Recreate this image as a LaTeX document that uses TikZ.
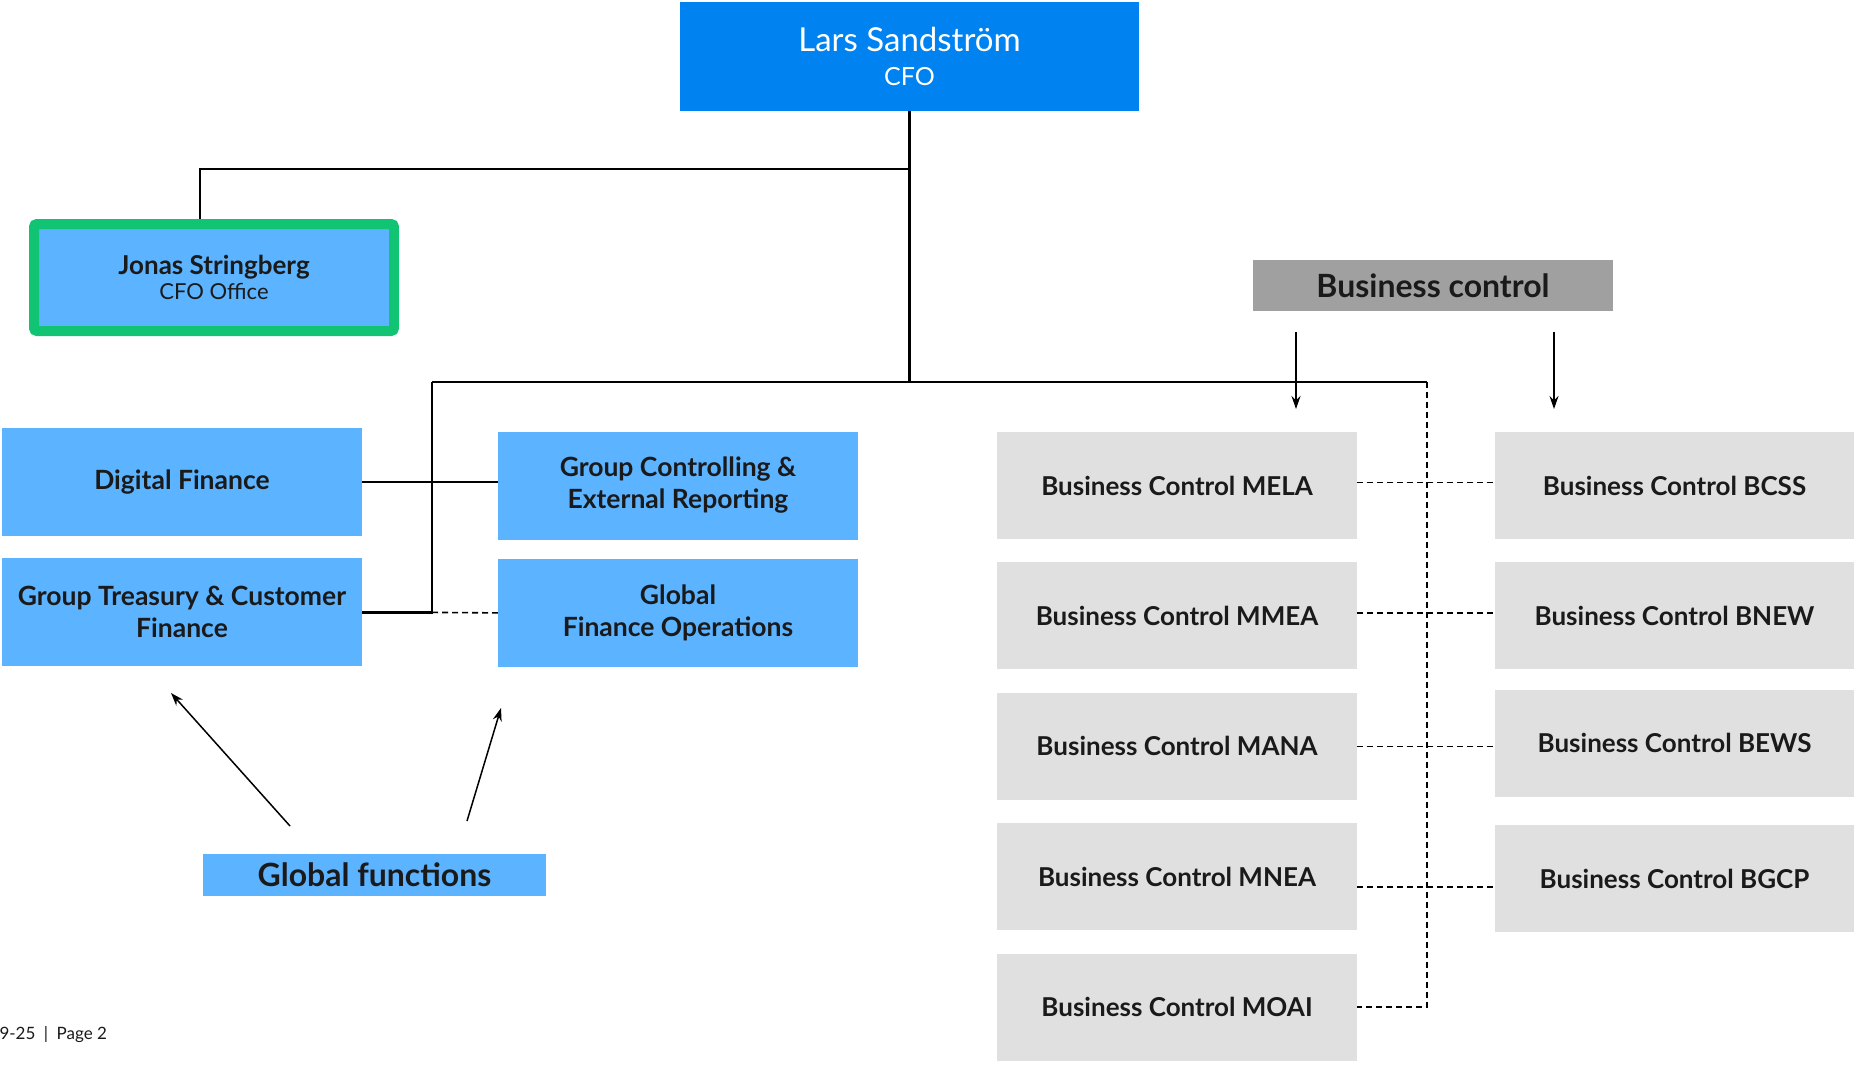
\documentclass[tikz,border=0pt]{standalone}
\usepackage{fontspec}
\setmainfont{Lato}
\usepackage{tikz}
\usetikzlibrary{positioning, arrows.meta, backgrounds}
\definecolor{cfoblue}{HTML}{0082F0}
\definecolor{lightblue}{HTML}{5CB3FF}
\definecolor{officegreen}{HTML}{10C474}
\definecolor{bcgray}{HTML}{E0E0E0}
\definecolor{headgray}{HTML}{A0A0A0}
\definecolor{ink}{HTML}{1A1A1A}
\tikzstyle{head}=[%
      rectangle, fill=cfoblue, text=white, align=center, font=\fontsize{25}{34}\selectfont,
      minimum width=459pt, minimum height=109pt, inner sep=0pt
]
\tikzstyle{office}=[%
      rectangle, fill=lightblue, draw=officegreen, line width=10pt, rounded corners=3pt,
      text=ink, align=center, font=\fontsize{22}{25}\selectfont,
      minimum width=360pt, minimum height=107pt, inner sep=0pt
]
\tikzstyle{fn}=[%
      rectangle, fill=lightblue, text=ink, align=center, font=\fontsize{26.5}{32}\selectfont\bfseries,
      minimum width=360pt, minimum height=108pt, inner sep=0pt
]
\tikzstyle{bc}=[%
      rectangle, fill=bcgray, text=ink, align=center, font=\fontsize{26}{32}\selectfont\bfseries,
      minimum width=360pt, minimum height=107pt, inner sep=0pt
]
\tikzstyle{tag}=[%
      rectangle, text=ink, font=\fontsize{32}{38}\selectfont\bfseries,
      minimum width=360pt, inner sep=0pt
]
\tikzstyle{line}=[draw=black, line width=2.5pt]
\tikzstyle{dot}=[draw=black, line width=1.6pt, dash pattern=on 6pt off 4pt]
\tikzstyle{arr}=[draw=black, line width=1.5pt, -{Stealth[length=13pt,width=9pt]}]

\begin{document}
\begin{tikzpicture}[x=1pt, y=-1pt]
    \useasboundingbox (0,0) rectangle (1854,1065);

    % top of the tree
    \node[head]   (cfo) at (909.5,56.5) {{\fontsize{33}{34}\selectfont Lars Sandström}\\CFO};
    \node[office] (cso) at (214,277.5)  {{\fontsize{26}{25}\selectfont\bfseries Jonas Stringberg}\\CFO Office};

    % global functions
    \node[fn] (df)  at (182,482)                {Digital Finance};
    \node[fn] (gt)  [below=22pt of df]          {Group Treasury \& Customer\\Finance};
    \node[fn] (gc)  at (678,485.5)              {Group Controlling \&\\External Reporting};
    \node[fn] (gfo) [below=19pt of gc]          {Global\\Finance Operations};
    \node[tag, fill=lightblue, minimum width=343pt, minimum height=42pt] (gf) at (374.5,875) {Global functions};

    % business control, two columns
    \node[tag, fill=headgray, minimum height=51pt] (bctl) at (1433,285.5) {Business control};
    \node[bc] (mela) at (1177,485.5)        {Business Control MELA};
    \node[bc] (mmea) [below=23pt of mela]   {Business Control MMEA};
    \node[bc] (mana) [below=23pt of mmea]   {Business Control MANA};
    \node[bc] (mnea) [below=23pt of mana]   {Business Control MNEA};
    \node[bc] (moai) [below=23pt of mnea]   {Business Control MOAI};
    \node[bc] (bcss) at (1674.5,485.5)      {Business Control BCSS};
    \node[bc] (bnew) [below=23pt of bcss]   {Business Control BNEW};
    \node[bc] (bews) [below=20pt of bnew]   {Business Control BEWS};
    \node[bc] (bgcp) [below=28pt of bews]   {Business Control BGCP};

    \node[anchor=west, text=ink, font=\fontsize{17}{20}\selectfont] (foot) at (-4,1035) {9-25\enspace|\enspace Page 2};

    \coordinate (split) at (909,169);
    \coordinate (busl)  at (432,382);
    \coordinate (busr)  at (1427,382);
    \coordinate (bca)   at (1296,332);
    \coordinate (bcb)   at (1554,332);
    \coordinate (gfa)   at (290,826);
    \coordinate (gfb)   at (467,821);

    \begin{scope}[on background layer]
    \draw[line] (cfo.south) -- (cfo.south |- busl);
    \draw[line] (split) -| ([xshift=-14pt]cso.north);
    \draw[line] (busl) -- (busr);
    \draw[line] (busl) -- (busl |- gt.east) -- (gt.east);
    \draw[dot]  (busl |- gt.east) -- (gfo.west);
    \draw[line] (df.east) -- (df.east -| gc.west);

    \draw[dot] (busr) -- (busr |- moai.east) -- (moai.east);
    \draw[dot] ([yshift=3pt]mela.east) -- ([yshift=3pt]mela.east -| bcss.west);
    \draw[dot] ([yshift=3pt]mmea.east) -- ([yshift=3pt]mmea.east -| bnew.west);
    \draw[dot] (mana.east) -- (mana.east -| bews.west);
    \draw[dot] ([yshift=-10pt]mnea.east) -- ([yshift=-10pt]mnea.east -| bgcp.west);
    \end{scope}

    \draw[arr] (bca) -- (bca |- 0,409);
    \draw[arr] (bcb) -- (bcb |- 0,409);
    \draw[arr] (gfa) -- (171,693);
    \draw[arr] (gfb) -- (501,708);
\end{tikzpicture}
\end{document}
